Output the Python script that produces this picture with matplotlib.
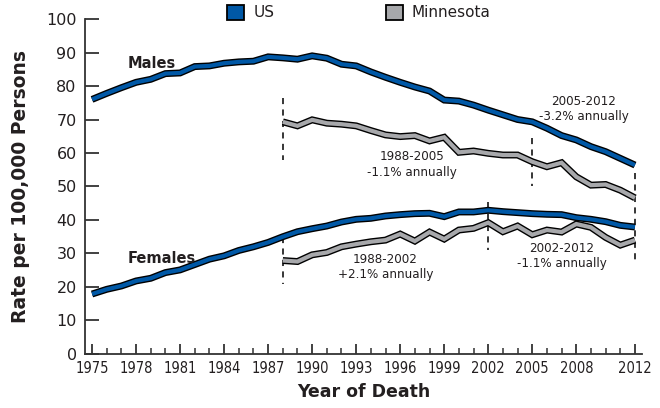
import numpy as np
import matplotlib
matplotlib.use('Agg')
import matplotlib.pyplot as plt
import matplotlib.patheffects as pe
from matplotlib.patches import Patch

years = list(range(1975, 2013))
mn_years = list(range(1988, 2013))

us_males = [76.0, 77.8, 79.5, 81.1, 82.0, 83.7, 83.9, 85.8, 86.0, 86.8,
            87.2, 87.4, 88.7, 88.4, 88.0, 89.0, 88.3, 86.5, 86.0, 84.2,
            82.6, 81.1, 79.7, 78.5, 75.8, 75.5, 74.3, 72.8, 71.4, 70.0,
            69.3, 67.4, 65.2, 63.9, 61.9, 60.4, 58.4, 56.4]
us_females = [17.9, 19.3, 20.3, 21.8, 22.6, 24.3, 25.1, 26.7, 28.3, 29.3,
              30.9, 32.0, 33.3, 35.0, 36.5, 37.4, 38.2, 39.4, 40.2, 40.5,
              41.2, 41.6, 41.9, 42.0, 41.0, 42.4, 42.4, 42.9, 42.5, 42.2,
              41.9, 41.7, 41.6, 40.7, 40.2, 39.5, 38.4, 37.9]
mn_males = [69.3, 68.1, 69.9, 68.9, 68.6, 68.1, 66.7, 65.4, 64.9, 65.2,
            63.6, 64.7, 60.2, 60.6, 59.9, 59.4, 59.4, 57.4, 55.9, 57.1,
            52.9, 50.4, 50.6, 48.9, 46.6]
mn_females = [27.9, 27.6, 29.6, 30.3, 32.0, 32.8, 33.5, 34.0, 35.8, 33.7,
              36.4, 34.3, 37.0, 37.5, 39.2, 36.5, 38.2, 35.6, 37.0, 36.4,
              38.8, 37.8, 34.8, 32.5, 34.0]

tick_years = [1975, 1978, 1981, 1984, 1987, 1990, 1993, 1996, 1999, 2002, 2005, 2008, 2012]

# trend segment breaks: (year, from, to)
breaks = [(1988, 76.5, 58), (2005, 64.5, 50), (2012, 54, 27),
          (1988, 35, 21), (2002, 45.5, 31)]
trend_notes = [(1996.8, 56.5, '1988-2005\n-1.1% annually'),
               (2008.5, 73.2, '2005-2012\n-3.2% annually'),
               (1995.0, 25.9, '1988-2002\n+2.1% annually'),
               (2007.0, 29.2, '2002-2012\n-1.1% annually')]

US_BLUE = '#0058a6'
MN_GRAY = '#a7a8ab'
TXT = '#231f20'

fig = plt.figure(figsize=(6.6, 4.08), dpi=100)
ax = fig.add_axes([0.1288, 0.1324, 0.8435, 0.821])

outline = [pe.Stroke(linewidth=5.0, foreground='black'), pe.Normal()]
for xs, ys, c in [(years, us_males, US_BLUE), (years, us_females, US_BLUE),
                  (mn_years, mn_males, MN_GRAY), (mn_years, mn_females, MN_GRAY)]:
    ax.plot(xs, ys, color=c, lw=3.0, solid_joinstyle='miter', solid_capstyle='butt',
            path_effects=outline, zorder=3)

for yr, y0, y1 in breaks:
    ax.plot([yr, yr], [y0, y1], color='black', lw=1.1, ls=(0, (4, 3.5)), zorder=1)

for x, y, s in trend_notes:
    ax.text(x, y, s, ha='center', va='center', fontsize=9.5, color=TXT,
            family='DejaVu Sans', fontstretch='condensed', linespacing=1.25)

ax.text(1977.4, 85.5, 'Males', fontsize=10.5, fontweight='bold', color=TXT)
ax.text(1977.4, 27.3, 'Females', fontsize=10.5, fontweight='bold', color=TXT)

ax.set_xlim(1974.52, 2012.46)
ax.set_ylim(0, 100)
ax.set_yticks(range(0, 101, 10))
ax.set_xticks(tick_years)
ax.set_xticks(years, minor=True)
ax.tick_params(axis='y', direction='in', length=10, width=1.3, color='#333333',
               labelsize=11.5, labelcolor=TXT, pad=6)
ax.tick_params(axis='x', which='major', direction='in', length=7, width=1.3,
               color='#333333', pad=5)
ax.tick_params(axis='x', which='minor', direction='in', length=4, width=1.1, color='#333333')
for lab in ax.get_xticklabels():
    lab.set_fontstretch('condensed')
    lab.set_fontsize(10.5)
    lab.set_color(TXT)

for s in ['top', 'right']:
    ax.spines[s].set_visible(False)
for s in ['left', 'bottom']:
    ax.spines[s].set_color('#333333')
    ax.spines[s].set_linewidth(1.3)

ax.set_xlabel('Year of Death', fontsize=12.5, fontweight='bold', color=TXT, labelpad=5)
ax.set_ylabel('Rate per 100,000 Persons', fontsize=13.5, fontweight='bold', color=TXT,
              labelpad=12)

handles = [Patch(facecolor=US_BLUE, edgecolor='black', lw=1.3, label='US'),
           Patch(facecolor=MN_GRAY, edgecolor='black', lw=1.3, label='Minnesota')]
fig.legend(handles=handles, loc='center', bbox_to_anchor=(0.544, 0.969), ncol=2,
           frameon=False, fontsize=11, handlelength=1.1, handleheight=1.1,
           handletextpad=0.6, columnspacing=7.3, borderpad=0, labelcolor=TXT)

fig.savefig('out.png', dpi=100)
